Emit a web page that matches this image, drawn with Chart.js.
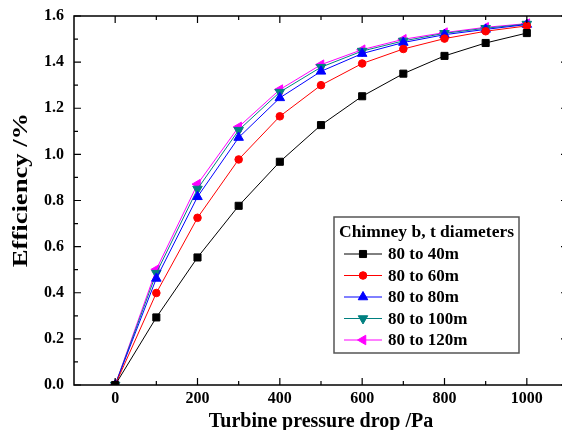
<!DOCTYPE html>
<html>
<head>
<meta charset="utf-8">
<script src="https://cdn.jsdelivr.net/npm/chart.js@4/dist/chart.umd.min.js"></script>
<style>
  html, body { margin: 0; padding: 0; background: #fff; overflow: hidden; }
  #wrap { width: 562px; height: 430px; overflow: hidden; }
</style>
</head>
<body>
<div id="wrap"><canvas id="grafico" width="580" height="430"></canvas></div>
<script>
// datos
var presion = [0, 100, 200, 300, 400, 500, 600, 700, 800, 900, 1000];
var d40  = [0, 0.293, 0.553, 0.777, 0.968, 1.127, 1.252, 1.350, 1.427, 1.483, 1.526];
var d60  = [0, 0.399, 0.725, 0.978, 1.165, 1.300, 1.394, 1.457, 1.502, 1.534, 1.557];
var d80  = [0, 0.462, 0.816, 1.073, 1.245, 1.360, 1.437, 1.485, 1.519, 1.542, 1.563];
var d100 = [0, 0.485, 0.850, 1.105, 1.270, 1.378, 1.448, 1.492, 1.525, 1.547, 1.565];
var d120 = [0, 0.501, 0.871, 1.119, 1.281, 1.389, 1.454, 1.499, 1.528, 1.551, 1.567];
var etiquetas = ["80 to 40m", "80 to 60m", "80 to 80m", "80 to 100m", "80 to 120m"];
var tituloLeyenda = "Chimney b, t diameters";
var tituloX = "Turbine pressure drop /Pa";
var tituloY = "Efficiency /%";

var fuente = "'Liberation Serif', 'Times New Roman', serif";

function serie(valores) {
  var pts = [];
  for (var i = 0; i < presion.length; i++) pts.push({ x: presion[i], y: valores[i] });
  return pts;
}

function dataset(i, valores, color, estilo, rot, radio) {
  return {
    label: etiquetas[i],
    data: serie(valores),
    borderColor: color,
    backgroundColor: color,
    borderWidth: 1,
    pointStyle: estilo,
    rotation: rot,
    pointRadius: radio,
    pointBorderWidth: 1,
    tension: 0
  };
}

// marco con marcas hacia dentro + titulo Y + leyenda dentro del area
var marcoPlugin = {
  id: 'marco',
  afterDatasetsDraw: function (chart) {
    var ctx = chart.ctx;
    var a = chart.chartArea;
    var sx = chart.scales.x, sy = chart.scales.y;
    ctx.save();
    ctx.strokeStyle = '#000';
    ctx.lineWidth = 1.5;
    ctx.strokeRect(a.left, a.top, a.right - a.left, a.bottom - a.top);
    ctx.lineWidth = 1.2;
    ctx.beginPath();
    sx.ticks.forEach(function (t) {
      if (t.value <= -100 || t.value >= 1100) return;
      var p = sx.getPixelForValue(t.value);
      var l = (t.value % 200 === 0) ? 7 : 4;
      ctx.moveTo(p, a.bottom); ctx.lineTo(p, a.bottom - l);
      ctx.moveTo(p, a.top); ctx.lineTo(p, a.top + l);
    });
    sy.ticks.forEach(function (t) {
      var p = sy.getPixelForValue(t.value);
      var l = (Math.round(t.value * 10) % 2 === 0) ? 7 : 4;
      ctx.moveTo(a.left, p); ctx.lineTo(a.left + l, p);
      ctx.moveTo(a.right, p); ctx.lineTo(a.right - l, p);
    });
    ctx.stroke();

    // titulo eje Y (algo estirado como en el original)
    ctx.save();
    ctx.translate(22, 190);
    ctx.rotate(-Math.PI / 2);
    ctx.scale(1.33, 1);
    ctx.fillStyle = '#000';
    ctx.textAlign = 'center';
    ctx.textBaseline = 'middle';
    ctx.font = 'bold 20px ' + fuente;
    ctx.fillText(tituloY, 0, 0);
    ctx.restore();

    // leyenda
    var bx = 334, by = 217, bw = 185, bh = 136;
    ctx.fillStyle = '#fff';
    ctx.fillRect(bx, by, bw, bh);
    ctx.strokeStyle = '#555';
    ctx.lineWidth = 1.5;
    ctx.strokeRect(bx, by, bw, bh);
    ctx.fillStyle = '#000';
    ctx.textBaseline = 'middle';
    ctx.textAlign = 'left';
    ctx.font = 'bold 17.5px ' + fuente;
    ctx.fillText(tituloLeyenda, bx + 5, by + 15);
    chart.data.datasets.forEach(function (ds, i) {
      var y = 254 + i * 21.5;
      ctx.strokeStyle = ds.borderColor;
      ctx.lineWidth = 1;
      ctx.beginPath();
      ctx.moveTo(344, y); ctx.lineTo(382, y);
      ctx.stroke();
      ctx.fillStyle = ds.backgroundColor;
      Chart.helpers.drawPoint(ctx, { pointStyle: ds.pointStyle, rotation: ds.rotation, radius: ds.pointRadius, borderWidth: 1 }, 363, y);
      ctx.fillStyle = '#000';
      ctx.font = 'bold 17px ' + fuente;
      ctx.fillText(ds.label, 388, y + 1);
    });
    ctx.restore();
  }
};

new Chart(document.getElementById('grafico'), {
  type: 'line',
  data: {
    datasets: [
      dataset(0, d40, '#000000', 'rect', 0, 5),
      dataset(1, d60, '#ff0000', 'circle', 0, 3.8),
      dataset(2, d80, '#0000ff', 'triangle', 0, 5.5),
      dataset(3, d100, '#008080', 'triangle', 180, 5.5),
      dataset(4, d120, '#ff00ff', 'triangle', 270, 5.5)
    ]
  },
  options: {
    responsive: false,
    animation: false,
    layout: { padding: { top: 16, right: 12, left: 0, bottom: 0 } },
    plugins: { legend: { display: false }, tooltip: { enabled: false } },
    scales: {
      x: {
        type: 'linear',
        min: -100,
        max: 1100,
        afterFit: function (s) { s.height = 45; s.paddingLeft = 0; s.paddingRight = 0; },
        grid: { display: false, drawTicks: false },
        border: { display: false },
        ticks: {
          stepSize: 100,
          autoSkip: false,
          maxRotation: 0,
          padding: 4,
          color: '#000',
          font: { family: fuente, size: 16, weight: 'bold' },
          callback: function (v) {
            return (v >= 0 && v <= 1000 && v % 200 === 0) ? String(v) : '';
          }
        },
        title: {
          display: true,
          text: tituloX,
          color: '#000',
          padding: { top: 0, bottom: -2 },
          font: { family: fuente, size: 20, weight: 'bold', lineHeight: 1 }
        }
      },
      y: {
        type: 'linear',
        min: 0,
        max: 1.6,
        afterFit: function (s) { s.width = 74; s.paddingTop = 0; s.paddingBottom = 0; },
        grid: { display: false, drawTicks: false },
        border: { display: false },
        ticks: {
          stepSize: 0.1,
          autoSkip: false,
          padding: 10,
          color: '#000',
          font: { family: fuente, size: 16, weight: 'bold' },
          callback: function (v) {
            return (Math.round(v * 10) % 2 === 0) ? v.toFixed(1) : '';
          }
        }
      }
    }
  },
  plugins: [marcoPlugin]
});
</script>
</body>
</html>
